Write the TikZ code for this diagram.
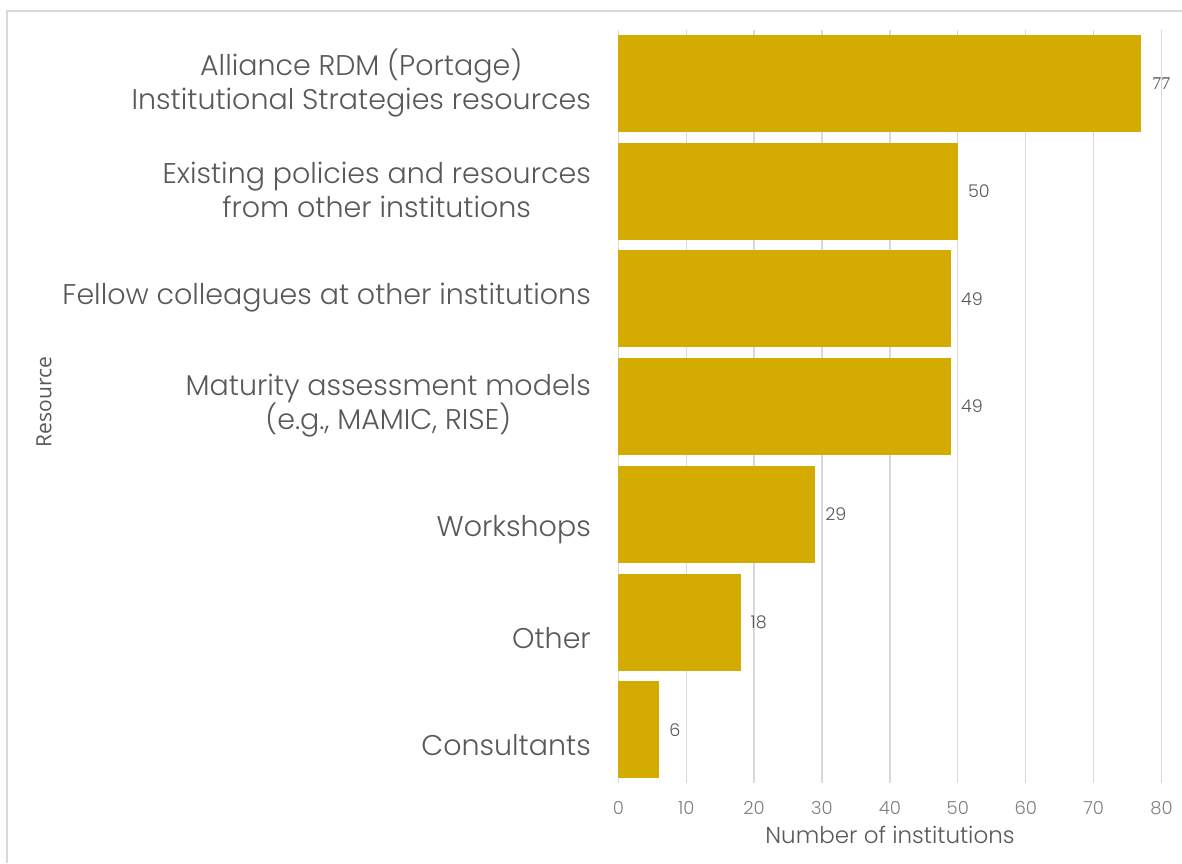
\documentclass[tikz,border=0pt]{standalone}
\usepackage{fontspec}
\IfFontExistsTF{Poppins Light}{\setmainfont{Poppins Light}}{\setmainfont{Poppins}}
\newfontfamily\resfont{Open Sans}
\newfontfamily\serifnum{Liberation Serif}
\definecolor{barcol}{RGB}{212,171,0}
\definecolor{gridcol}{RGB}{217,217,217}
\definecolor{txtcol}{RGB}{89,89,89}
\definecolor{tickcol}{RGB}{128,128,128}
\begin{document}
\begin{tikzpicture}[x=1pt,y=-1pt,
  bar/.style={fill=barcol,draw=none},
  gridline/.style={draw=gridcol,line width=1.3pt},
  catlabel/.style={anchor=east,align=center,text=txtcol,font=\fontsize{28.5}{34}\selectfont,inner sep=0pt},
  vallabel/.style={anchor=west,text=txtcol,font=\fontsize{17.5}{20}\selectfont,inner sep=0pt},
  ticklabel/.style={anchor=center,text=tickcol,font=\fontsize{18}{20}\selectfont,inner sep=0pt},
  axtitle/.style={text=txtcol,font=\fontsize{23}{26}\selectfont,inner sep=0pt}]
\useasboundingbox (0,0) rectangle (1182,863);
\fill[white] (0,0) rectangle (1182,863);
% frame
\draw[gridcol,line width=1.5pt] (7,863) -- (7,11) -- (1182,11);
% gridlines
\foreach \k in {1,...,8}{
  \coordinate (gt\k) at ({618.3+\k*67.9},30);
  \coordinate (gb\k) at ({618.3+\k*67.9},783);
  \draw[gridline] (gt\k) -- (gb\k);
}
\coordinate (axt) at (618.3,30);
\coordinate (axb) at (618.3,783);
\draw[gridline] (axt) -- (axb);
% ticks
\foreach \k in {0,...,8}{
  \pgfmathtruncatemacro{\v}{\k*10}
  \node[ticklabel] (tick\k) at ({618.3+\k*67.9},808) {\v};
}
% bars
\foreach \i/\v in {0/77,1/50,2/49,3/49,4/29,5/18,6/6}{
  \pgfmathsetmacro{\yc}{83.5+\i*107.7}
  \fill[bar] (618.3,\yc-48.5) rectangle ({618.3+\v*6.79},\yc+48.5);
  \coordinate (bend\i) at ({618.3+\v*6.79},\yc);
}
% value labels
\node[vallabel,font=\serifnum\fontsize{18}{20}\selectfont] (v0) at ([xshift=11pt]bend0) {77};
\node[vallabel] (v1) at ([xshift=10pt]bend1) {50};
\node[vallabel] (v2) at ([xshift=10pt]bend2) {49};
\node[vallabel] (v3) at ([xshift=10pt]bend3) {49};
\node[vallabel] (v4) at ([xshift=10pt]bend4) {29};
\node[vallabel] (v5) at ([xshift=10pt]bend5) {18};
\node[vallabel] (v6) at ([xshift=10pt]bend6) {6};
% category labels
\node[catlabel] (c0) at (591,83) {Alliance RDM (Portage)\\Institutional Strategies resources};
\node[catlabel] (c1) at (591,190) {Existing policies and resources\\from other institutions};
\node[catlabel] (c2) at (591,298) {Fellow colleagues at other institutions};
\node[catlabel] (c3) at (591,406) {Maturity assessment models\\(e.g., MAMIC, RISE)};
\node[catlabel] (c4) at (591,530) {Workshops};
\node[catlabel] (c5) at (591,638) {Other};
\node[catlabel] (c6) at (591,745) {Consultants};
% axis titles
\node[axtitle] (xt) at (890,835) {Number of institutions};
\node[axtitle,font=\resfont\fontsize{21}{24}\selectfont,rotate=90] (yt) at (44,402) {Resource};
\end{tikzpicture}
\end{document}
